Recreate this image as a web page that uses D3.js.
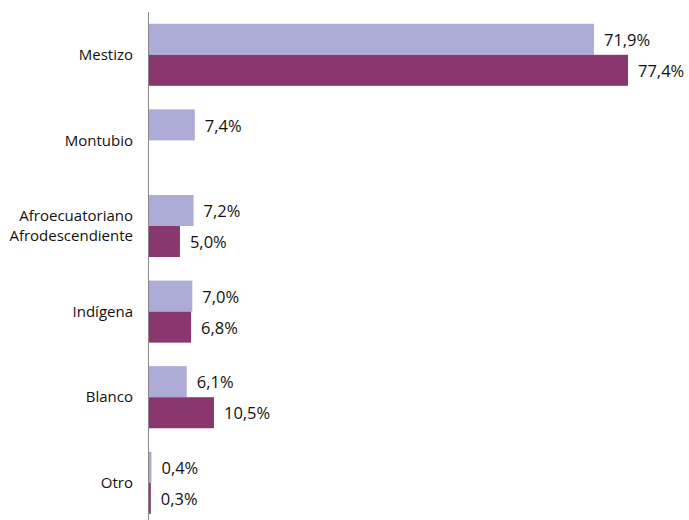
<!DOCTYPE html>
<html><head><meta charset="utf-8">
<script src="https://cdn.jsdelivr.net/npm/d3@7"></script>
<style>body{margin:0;background:#fff}text{font-family:"Open Sans","Noto Sans",sans-serif}</style>
</head><body><svg id="c" width="689" height="520"></svg>
<script>
const categories = [["Mestizo"],["Montubio"],["Afroecuatoriano","Afrodescendiente"],["Indígena"],["Blanco"],["Otro"]];
const series1 = [71.9, 7.4, 7.2, 7.0, 6.1, 0.4];
const series2 = [77.4, null, 5.0, 6.8, 10.5, 0.3];
const colors = ["#acacd7", "#8b376f"];

const svg = d3.select("#c");
const x0 = 148.5;
const x = d3.scaleLinear().domain([0, 77.4]).range([x0 + 0.5, 628]);
const y = d3.scaleBand().domain(d3.range(categories.length)).range([12, 525.6]).paddingInner(0.275).paddingOuter(0.1375);
const sub = d3.scaleBand().domain([0,1]).range([0, y.bandwidth()]);

const fmt = v => v.toFixed(1).replace(".", ",") + "%";

[series1, series2].forEach((s, si) => {
  const g = svg.append("g");
  s.forEach((v, i) => {
    if (v == null) return;
    const yy = y(i) + sub(si);
    g.append("rect").attr("x", x(0)).attr("y", yy).attr("width", x(v) - x(0)).attr("height", sub.bandwidth()).attr("fill", colors[si]);
    g.append("text").attr("x", x(v) + 10).attr("y", yy + sub.bandwidth()/2 + 1).attr("dy", "0.35em")
      .attr("font-size", 16.5).attr("fill", "#111").text(fmt(v));
  });
});

svg.append("line").attr("x1", x0).attr("x2", x0).attr("y1", 12).attr("y2", 520).attr("stroke", "#888").attr("stroke-width", 1);

categories.forEach((c, i) => {
  const cy = y(i) + y.bandwidth()/2;
  const t = svg.append("text").attr("text-anchor", "end").attr("font-size", 15).attr("fill", "#111");
  c.forEach((line, k) => {
    t.append("tspan").attr("x", 133).attr("y", cy + (k - (c.length-1)/2) * 20).attr("dy", "0.35em").text(line);
  });
});
</script></body></html>
